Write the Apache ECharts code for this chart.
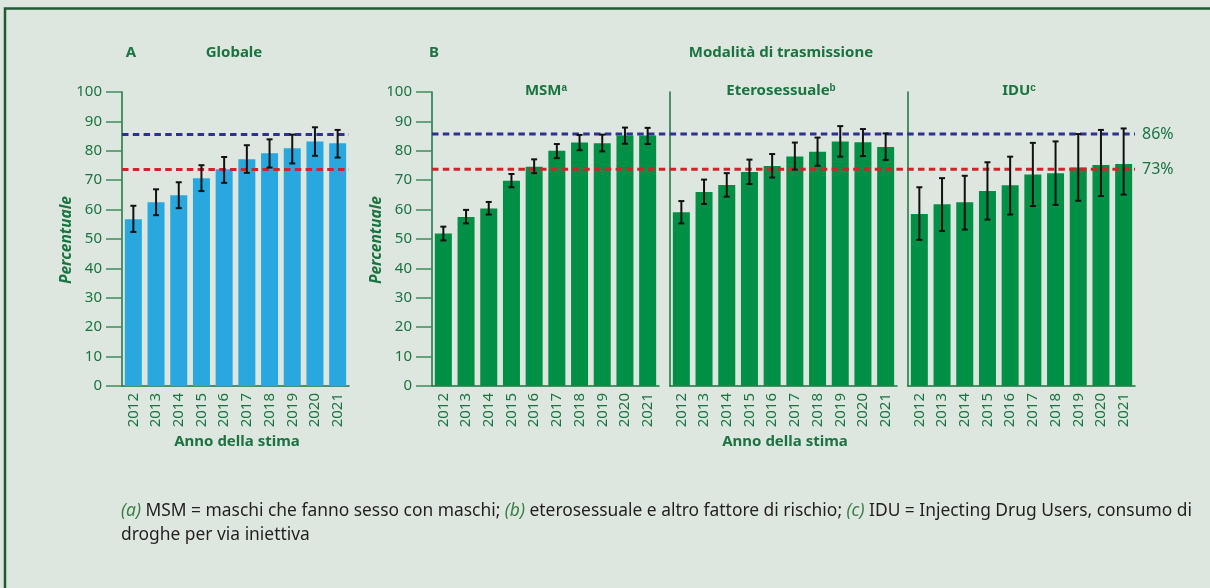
<!DOCTYPE html>
<html>
<head>
<meta charset="utf-8">
<script src="https://cdn.jsdelivr.net/npm/echarts@6/dist/echarts.min.js"></script>
<style>
  html, body { margin: 0; padding: 0; background: #dde6df; }
  #main { width: 1210px; height: 588px; }
</style>
</head>
<body>
<div id="main"></div>
<script>
// dati (percentuale con intervallo)
const years = ['2012', '2013', '2014', '2015', '2016', '2017', '2018', '2019', '2020', '2021'];

const globale = [56.7, 62.5, 64.9, 70.7, 73.7, 77.1, 79.2, 80.9, 83.2, 82.6];
const globaleLow = [52.4, 58.1, 60.5, 66.3, 69.1, 72.5, 74.3, 75.7, 78.3, 77.7];
const globaleHigh = [61.3, 66.9, 69.3, 75.1, 77.9, 81.9, 83.9, 85.5, 88.0, 87.1];

const msm = [51.9, 57.5, 60.4, 69.8, 74.6, 80.0, 82.8, 82.6, 85.2, 85.2];
const msmLow = [49.5, 55.3, 58.3, 67.6, 72.4, 77.5, 80.2, 79.8, 82.4, 82.3];
const msmHigh = [54.2, 59.9, 62.6, 72.1, 77.1, 82.3, 85.4, 85.5, 87.9, 87.8];

const etero = [59.1, 66.0, 68.4, 72.8, 74.8, 78.1, 79.7, 83.2, 82.9, 81.3];
const eteroLow = [55.3, 61.9, 64.4, 68.7, 70.9, 73.6, 74.9, 78.0, 78.2, 76.9];
const eteroHigh = [62.9, 70.2, 72.4, 77.0, 78.9, 82.8, 84.5, 88.4, 87.4, 85.9];

const idu = [58.5, 61.8, 62.5, 66.3, 68.3, 71.9, 72.4, 74.3, 75.2, 75.5];
const iduLow = [49.7, 52.7, 53.2, 56.6, 58.3, 61.2, 61.6, 63.0, 64.6, 65.1];
const iduHigh = [67.6, 70.7, 71.5, 76.1, 78.0, 82.7, 83.2, 85.7, 87.1, 87.6];

// obiettivi (linee tratteggiate)
const targetValues = [85.7, 73.7];
const targetLabels = ['86%', '73%'];
const targetColors = ['#2e3192', '#d2232a'];

const yMin = 0, yMax = 100, yStep = 10;

const GREEN = '#1a7440';
const FONT = '"Noto Sans", sans-serif';

const chart = echarts.init(document.getElementById('main'));

// griglie: A, MSM, Etero, IDU, overlay per le linee di B
const grids = [
  { left: 122, top: 92, width: 227, height: 294 },
  { left: 432, top: 92, width: 227, height: 294 },
  { left: 670, top: 92, width: 227, height: 294 },
  { left: 908, top: 92, width: 227, height: 294 },
  { left: 432, top: 92, width: 703, height: 294 }
];

function catAxis(i) {
  return {
    type: 'category', gridIndex: i, data: years,
    axisLine: { lineStyle: { color: GREEN, width: 1.5 } },
    axisTick: { length: 15, lineStyle: { color: GREEN, width: 1.5 } },
    axisLabel: { rotate: 90, margin: 7, color: GREEN, fontSize: 15, fontFamily: FONT }
  };
}

function valAxis(i, withLabels) {
  return {
    type: 'value', gridIndex: i, min: yMin, max: yMax, interval: yStep,
    splitLine: { show: false },
    axisLine: { show: true, lineStyle: { color: GREEN, width: 1.5 } },
    axisTick: { show: withLabels, length: 16, lineStyle: { color: '#3f8c5c', width: 1.5 } },
    axisLabel: { show: withLabels, margin: 20, color: GREEN, fontSize: 15, fontFamily: FONT }
  };
}

function errData(low, high) {
  return years.map((y, i) => [i, high[i], low[i]]);
}

function errSeries(i, low, high) {
  return {
    type: 'custom', xAxisIndex: i, yAxisIndex: i, z: 5,
    data: errData(low, high),
    renderItem: function (params, api) {
      const top = api.coord([api.value(0), api.value(1)]);
      const bot = api.coord([api.value(0), api.value(2)]);
      const cap = 3;
      const st = { stroke: '#111', lineWidth: 2 };
      return {
        type: 'group',
        children: [
          { type: 'line', shape: { x1: top[0], y1: top[1], x2: bot[0], y2: bot[1] }, style: st },
          { type: 'line', shape: { x1: top[0] - cap, y1: top[1], x2: top[0] + cap, y2: top[1] }, style: st },
          { type: 'line', shape: { x1: bot[0] - cap, y1: bot[1], x2: bot[0] + cap, y2: bot[1] }, style: st }
        ]
      };
    }
  };
}

function barSeries(i, values, color) {
  return {
    type: 'bar', xAxisIndex: i, yAxisIndex: i, data: values, barWidth: 17,
    itemStyle: { color: color }, z: 2, silent: true
  };
}

const dash = [6.5, 4.3];

// linee obiettivo panel A via markLine
const markA = {
  symbol: 'none', silent: true, label: { show: false },
  data: targetValues.map((v, k) => ({
    yAxis: v, lineStyle: { color: targetColors[k], type: dash, width: 3 }
  }))
};

const series = [
  Object.assign(barSeries(0, globale, '#29a8e0'), { markLine: markA }),
  errSeries(0, globaleLow, globaleHigh),
  barSeries(1, msm, '#009045'),
  errSeries(1, msmLow, msmHigh),
  barSeries(2, etero, '#009045'),
  errSeries(2, eteroLow, eteroHigh),
  barSeries(3, idu, '#009045'),
  errSeries(3, iduLow, iduHigh)
];

// linee obiettivo pannello B attraverso i tre sottopannelli
targetValues.forEach((v, k) => {
  series.push({
    type: 'line', xAxisIndex: 4, yAxisIndex: 4, z: 3, silent: true,
    symbol: 'none',
    lineStyle: { color: targetColors[k], type: dash, width: 3 },
    endLabel: {
      show: true, distance: 7, formatter: targetLabels[k],
      color: GREEN, fontSize: 16, fontFamily: FONT
    },
    data: [[0, v], [1, v]]
  });
});

function txt(x, y, text, opt) {
  return {
    type: 'text', x: x, y: y, silent: true,
    style: Object.assign({
      text: text, fill: GREEN, font: 'bold 15px ' + FONT,
      align: 'center', verticalAlign: 'middle',
      textAlign: 'center', textVerticalAlign: 'middle'
    }, opt || {})
  };
}

const supRich = { sup: { fontSize: 10, fontWeight: 'bold', fill: GREEN, verticalAlign: 'top', padding: [0, 0, 6, 0] } };

const footRich = {
  i: { fill: '#3a7d44', fontStyle: 'italic', fontSize: 17.4, fontFamily: FONT },
  n: { fill: '#231f20', fontSize: 17.4, fontFamily: FONT }
};

const graphic = [
  {
    type: 'rect', silent: true, z: -1,
    shape: { x: 5, y: 8.5, width: 1400, height: 800 },
    style: { fill: 'none', stroke: '#1f5c35', lineWidth: 2.5 }
  },
  txt(131, 53, 'A'),
  txt(234, 53, 'Globale'),
  txt(434, 53, 'B'),
  txt(781, 53, 'Modalità di trasmissione'),
  txt(546, 91, 'MSM{sup|a}', { rich: supRich }),
  txt(781, 91, 'Eterosessuale{sup|b}', { rich: supRich }),
  txt(1019, 91, 'IDU{sup|c}', { rich: supRich }),
  Object.assign(txt(0, 0, 'Percentuale', { font: 'italic bold 15.5px ' + FONT }), { x: 67, y: 240, rotation: Math.PI / 2 }),
  Object.assign(txt(0, 0, 'Percentuale', { font: 'italic bold 15.5px ' + FONT }), { x: 377, y: 240, rotation: Math.PI / 2 }),
  txt(237, 442, 'Anno della stima'),
  txt(785, 442, 'Anno della stima'),
  {
    type: 'text', x: 121, y: 523, silent: true,
    style: {
      text: '{i|(a)}{n| MSM = maschi che fanno sesso con maschi; }{i|(b)}{n| eterosessuale e altro fattore di rischio; }{i|(c)}{n| IDU = Injecting Drug Users, consumo di}\n{n|droghe per via iniettiva}',
      rich: footRich, lineHeight: 24,
      align: 'left', verticalAlign: 'middle', textAlign: 'left', textVerticalAlign: 'middle'
    }
  }
];

const option = {
  backgroundColor: '#dde6df',
  animation: false,
  textStyle: { fontFamily: FONT },
  grid: grids,
  xAxis: [catAxis(0), catAxis(1), catAxis(2), catAxis(3),
    { type: 'value', gridIndex: 4, min: 0, max: 1, show: false }],
  yAxis: [valAxis(0, true), valAxis(1, true), valAxis(2, false), valAxis(3, false),
    { type: 'value', gridIndex: 4, min: yMin, max: yMax, show: false }],
  series: series,
  graphic: graphic
};

chart.setOption(option);
</script>
</body>
</html>
